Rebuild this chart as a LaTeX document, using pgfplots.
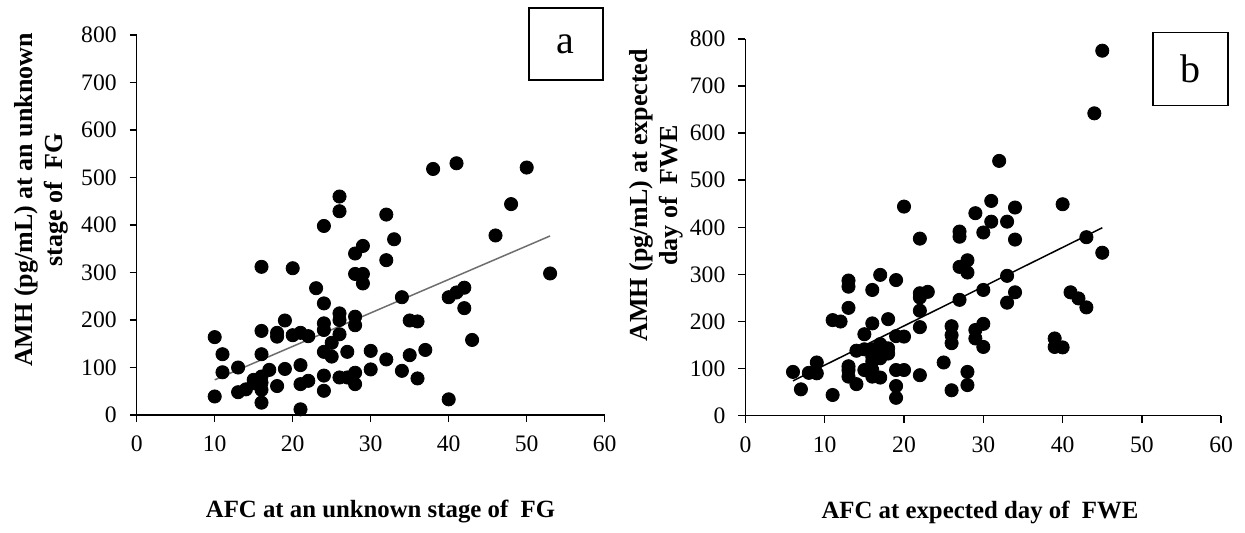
\documentclass[border=0pt]{standalone}
\usepackage{fontspec}
\setmainfont{Liberation Serif}
\usepackage{pgfplots}
\pgfplotsset{compat=1.18}
\definecolor{trendgray}{HTML}{6E6E6E}
\pgfplotsset{
  myax/.style={
    scale only axis,
    xmin=0, xmax=60, ymin=0, ymax=800,
    xtick={0,10,...,60}, ytick={0,100,...,800},
    axis x line*=bottom, axis y line*=left,
    tick align=outside, major tick length=3.5pt,
    tick style={black, line width=0.75pt},
    axis line style={black, line width=0.75pt},
    tick label style={font=\fontsize{11.8}{13.5}\selectfont},
    x tick label style={yshift=-3.5pt},
    y tick label style={xshift=-3pt},
    /pgf/number format/assume math mode=true,
    xlabel style={anchor=center, font=\bfseries\fontsize{12.4}{14.5}\selectfont},
    ylabel style={anchor=center, align=center, font=\bfseries\fontsize{13}{15}\selectfont},
    clip=false,
  },
  dots/.style={only marks, mark=*, mark size=3.3pt, mark options={fill=black, draw=black}},
}
\begin{document}
\begin{tikzpicture}[x=1pt,y=1pt]
\useasboundingbox (0,0) rectangle (622.5,266);
\begin{axis}[myax, at={(68.35pt,58.5pt)}, anchor=south west, width=234pt, height=190pt,
  xlabel={AFC at an unknown stage of~~FG},
  xlabel style={at={(axis description cs:0.521,-0.255)}},
  ylabel={AMH (pg/mL) at an unknown\\stage of~~FG},
  ylabel style={at={(axis description cs:-0.203,0.566)}}]
\addplot[dots] table {
x y
10 164
11 128
11 90
10 39
13 100
13 48
14 54
15 74
15 67
16 81
16 68
16 53
17 95
16 26
16 128
16 177
16 312
18 173
18 165
18 61
19 199
19 97
20 309
20 168
21 173
22 166
21 105
21 65
22 72
21 12
23 267
24 235
24 193
24 179
24 133
24 83
24 51
25 152
25 123
26 214
26 200
26 170
26 79
24 398
26 460
26 429
27 133
27 79
28 207
28 189
28 89
28 65
28 340
29 356
28 297
29 297
29 277
30 135
30 96
32 422
32 326
32 117
33 370
34 248
34 93
35 199
36 197
35 126
36 77
37 137
38 518
41 530
40 248
41 258
42 268
42 225
43 158
40 33
46 378
48 444
50 521
53 298
};
\addplot[trendgray, line width=0.75pt] coordinates {(10,74) (53,377)};
\node[draw=black, line width=0.75pt, fill=white, minimum width=37pt, minimum height=36pt, inner sep=0pt,
  font=\fontsize{20}{24}\selectfont] at (axis description cs:0.917,0.976) {a};
\end{axis}
\begin{axis}[myax, at={(372.7pt,58.15pt)}, anchor=south west, width=237.9pt, height=188.4pt,
  xlabel={AFC at expected day of~~FWE},
  xlabel style={at={(axis description cs:0.493,-0.256)}},
  ylabel={AMH (pg/mL) at expected\\day of~~FWE},
  ylabel style={at={(axis description cs:-0.187,0.585)}}]
\addplot[dots] table {
x y
6 93
7 56
8 91
9 113
9 90
11 44
11 203
12 200
13 287
13 274
13 229
13 105
13 97
13 83
14 67
14 138
15 173
15 141
15 97
16 267
16 196
16 141
16 125
16 115
16 97
16 83
17 299
17 152
17 143
17 122
17 81
18 205
18 143
18 132
19 288
19 169
19 97
19 63
19 38
20 168
20 97
20 444
22 376
22 260
22 251
22 223
22 188
22 86
23 263
25 113
26 190
26 171
26 154
26 54
27 391
27 380
27 316
27 246
28 330
28 304
28 93
28 65
29 430
29 182
29 164
30 195
30 146
30 389
30 267
31 456
31 412
32 541
33 412
33 297
33 240
34 442
34 374
34 262
40 449
39 164
39 146
40 145
41 262
42 249
43 230
43 379
44 642
45 775
45 346
};
\addplot[black, line width=0.75pt] coordinates {(6,74) (45,399)};
\node[draw=black, line width=0.75pt, fill=white, minimum width=37.5pt, minimum height=36.5pt, inner sep=0pt,
  font=\fontsize{20}{24}\selectfont] at (axis description cs:0.935,0.920) {b};
\end{axis}
\end{tikzpicture}
\end{document}
